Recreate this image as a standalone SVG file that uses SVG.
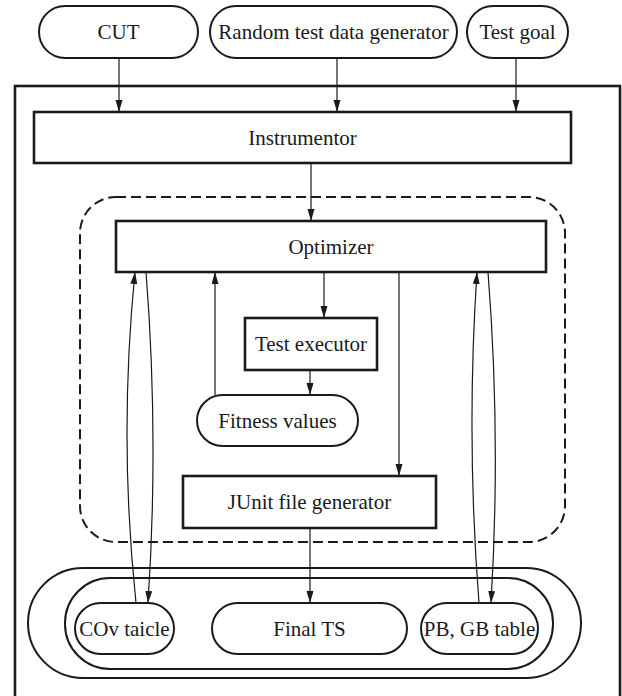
<svg xmlns="http://www.w3.org/2000/svg" width="622" height="696" viewBox="0 0 622 696">
<style>
text{font-family:"Liberation Serif","Times New Roman",serif;font-size:21px;fill:#1a1a1a;text-anchor:middle}
.box{fill:#fff;stroke:#1a1a1a;stroke-width:2.6}
.pill{fill:#fff;stroke:#1a1a1a;stroke-width:2}
.frame{fill:none;stroke:#1a1a1a;stroke-width:2.6}
.dash{fill:none;stroke:#1a1a1a;stroke-width:2;stroke-dasharray:10 5}
.c{fill:none;stroke:#1a1a1a;stroke-width:1.2}
.a{marker-end:url(#arr)}
</style>
<defs>
<marker id="arr" markerUnits="userSpaceOnUse" markerWidth="13" markerHeight="8" refX="12" refY="3.5" orient="auto">
<path d="M0,0 L12,3.5 L0,7 z" fill="#1a1a1a"/>
</marker>
</defs>
<rect width="622" height="696" fill="#fff"/>
<g id="system"><rect class="frame" x="15" y="86" width="605" height="620"/></g>
<g id="optimizer-zone"><rect class="dash" x="80" y="197" width="485" height="345" rx="36" ry="36"/></g>
<g id="store-outer"><rect class="pill" x="28" y="568" width="553" height="110" rx="55" ry="55"/></g>
<g id="store-inner"><rect class="pill" x="65" y="578" width="488" height="91" rx="45" ry="45"/></g>
<g id="cut"><rect class="pill" x="39" y="6" width="159" height="52" rx="26" ry="26"/><text x="118.5" y="39">CUT</text></g>
<g id="random"><rect class="pill" x="210" y="6" width="247" height="52" rx="26" ry="26"/><text x="333.5" y="39">Random test data generator</text></g>
<g id="goal"><rect class="pill" x="467" y="6" width="101" height="52" rx="26" ry="26"/><text x="517.5" y="39">Test goal</text></g>
<g id="instrumentor"><rect class="box" x="34" y="112" width="537" height="51"/><text x="302.5" y="145">Instrumentor</text></g>
<g id="optimizer"><rect class="box" x="116" y="221" width="430" height="51"/><text x="331" y="254">Optimizer</text></g>
<g id="executor"><rect class="box" x="245" y="318" width="132" height="52"/><text x="311" y="351">Test executor</text></g>
<g id="fitness"><rect class="pill" x="197" y="395" width="161" height="51" rx="25.5" ry="25.5"/><text x="277.5" y="428">Fitness values</text></g>
<g id="junit"><rect class="box" x="183" y="476" width="253" height="52"/><text x="309.5" y="509">JUnit file generator</text></g>
<g id="cov"><rect class="pill" x="75" y="603" width="99" height="51" rx="25.5" ry="25.5"/><text x="124.5" y="636">COv taicle</text></g>
<g id="finalts"><rect class="pill" x="212" y="603" width="195" height="51" rx="25.5" ry="25.5"/><text x="309.5" y="636">Final TS</text></g>
<g id="pbgb"><rect class="pill" x="421" y="603" width="117" height="51" rx="25.5" ry="25.5"/><text x="479.5" y="636">PB, GB table</text></g>
<g id="connectors">
<path class="c a" d="M119,58 V112"/>
<path class="c a" d="M337,58 V112"/>
<path class="c a" d="M516,58 V112"/>
<path class="c a" d="M311,163 V221"/>
<path class="c a" d="M324,272 V318"/>
<path class="c a" d="M310,370 V395"/>
<path class="c a" d="M215,395 V272"/>
<path class="c a" d="M399,272 V476"/>
<path class="c a" d="M310,528 V603"/>
<path class="c a" d="M136,603 Q118.5,437 135,272"/>
<path class="c a" d="M146,272 Q159,437 148,603"/>
<path class="c a" d="M479,603 Q466,437 477,272"/>
<path class="c a" d="M488,272 Q501,437 491,603"/>
</g>
</svg>
